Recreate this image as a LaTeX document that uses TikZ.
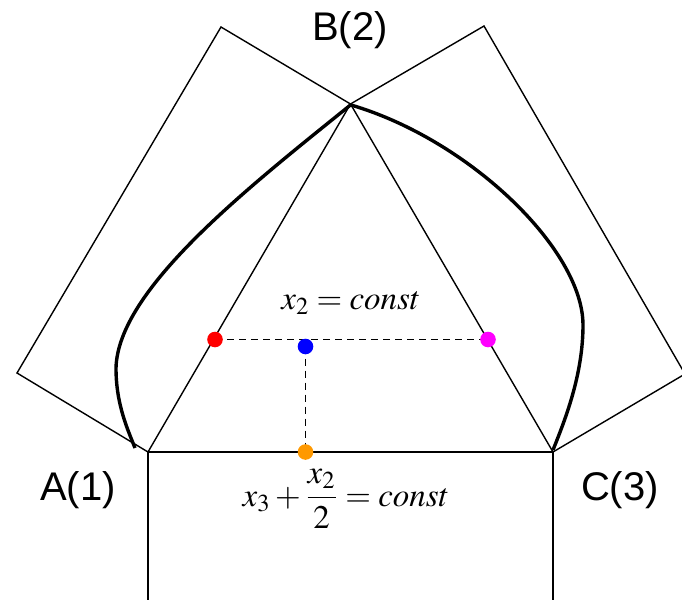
\documentclass[tikz,border=0pt]{standalone}
\usepackage{mathptmx}
\usepackage[no-math]{fontspec}
\setmainfont{Liberation Sans}
\usetikzlibrary{backgrounds}
\definecolor{cRed}{HTML}{FF0000}
\definecolor{cBlue}{HTML}{0000FF}
\definecolor{cMag}{HTML}{FF00FF}
\definecolor{cOrange}{HTML}{FF9900}

\begin{document}
\begin{tikzpicture}[x=0.5pt, y=-0.5pt,
  side/.style={line width=0.7pt, line join=miter},
  curve/.style={line width=1.7pt, line join=round},
  guide/.style={line width=0.9pt, dash pattern=on 3.5pt off 2.5pt},
  dot/.style={circle, inner sep=0pt, minimum size=7.8pt},
  lbl/.style={font=\fontsize{20}{24}\selectfont},
  mth/.style={font=\fontsize{16.5}{20}\selectfont},
]
  \useasboundingbox (0,0) rectangle (682,600);
  \clip (0,0) rectangle (682,600);
  % triangle corners
  \coordinate (A) at (148,452);
  \coordinate (B) at (350.5,104);
  \coordinate (C) at (553,452);
  % outer corners of the side rectangles
  \coordinate (AB1) at (17,373);
  \coordinate (AB2) at (221,27);
  \coordinate (BC1) at (484,26);
  \coordinate (BC2) at (685,374);
  \coordinate (CA1) at (553,606);
  \coordinate (CA2) at (148,606);
  % rectangles on the sides
  \draw[side] (A) -- (AB1) -- (AB2) -- (B) -- cycle;
  \draw[side] (B) -- (BC1) -- (BC2) -- (C) -- cycle;
  \draw[side] (C) -- (CA1) -- (CA2) -- (A) -- cycle;
  % boundary curves
  \draw[curve] (350.5,105) .. controls (245,190) and (118,290) .. (116,368)
    .. controls (116,405) and (128,430) .. (135,448);
  \draw[curve] (351,105) .. controls (470,140) and (583,250) .. (583,325)
    .. controls (583,375) and (565,420) .. (553,450);
  % level lines
  \node[dot, fill=cRed]    (pR) at (215,339.5) {};
  \node[dot, fill=cMag]    (pM) at (488,339.5) {};
  \node[dot, fill=cBlue]   (pB) at (305.5,346.5) {};
  \node[dot, fill=cOrange] (pO) at (305.5,452) {};
  \begin{scope}[on background layer]
    \draw[guide] (pR.center) -- (pM.center);
    \draw[guide] (pB.center) -- (pO.center);
  \end{scope}
  % labels
  \node[lbl] (labB) at (350,30) {B(2)};
  \node[lbl] (labA) at (78,490) {A(1)};
  \node[lbl] (labC) at (620,490) {C(3)};
  \node[mth] (eqTop) at (351,303) {$x_2 = const$};
  \node[mth] (eqBot) at (346,499) {$\displaystyle x_3+\frac{x_2}{2}=const$};
\end{tikzpicture}
\end{document}
